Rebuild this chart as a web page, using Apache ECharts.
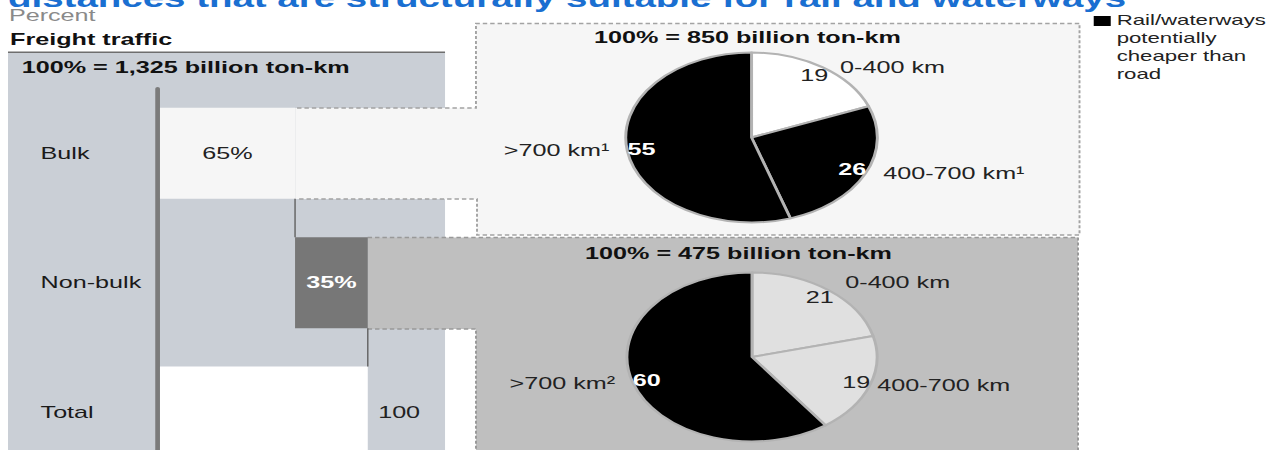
<!DOCTYPE html>
<html>
<head>
<meta charset="utf-8">
<script src="https://cdn.jsdelivr.net/npm/echarts@6/dist/echarts.min.js"></script>
<style>
  html, body { margin: 0; padding: 0; background: #fff; overflow: hidden; }
  /* the source picture is stretched sideways, so the whole chart is too */
  #main { width: 861px; height: 450px; transform: scaleX(1.48); transform-origin: 0 0; }
</style>
</head>
<body>
<div id="main"></div>
<script>
// rows of the freight waterfall (percent of 1,325 billion ton-km)
var rowNames = ['Bulk', 'Non-bulk', 'Total'];
var rowShares = [65, 35, 100];

// distance split of bulk freight (100% = 850 billion ton-km)
var bulkBands = ['0-400 km', '400-700 km¹', '>700 km¹'];
var bulkShares = [19, 26, 55];

// distance split of non-bulk freight (100% = 475 billion ton-km)
var nonBulkBands = ['0-400 km', '400-700 km', '>700 km²'];
var nonBulkShares = [21, 19, 60];

var totals = ['1,325', '850', '475'];

var FONT = '"Liberation Sans", Arial, sans-serif';
var chart = echarts.init(document.getElementById('main'), null, { renderer: 'svg' });

// invisible base of the waterfall
var base = [];
var run = 0;
rowShares.forEach(function (v, i) {
  if (i === rowShares.length - 1) {
    base.push(0);
  } else {
    base.push(run);
    run += v;
  }
});

var barColors = ['#f6f6f6', '#777777', '#ffffff'];
var barLabels = [
  { position: 'inside', formatter: '{c}%', color: '#222' },
  { position: 'inside', formatter: '{c}%', color: '#fff', fontWeight: 'bold' },
  { position: 'right', distance: 7, formatter: '{c}', color: '#222' }
];

var bulkColors = ['#ffffff', '#000000', '#000000'];
var bulkValueColors = ['#222', '#fff', '#fff'];
var nonBulkColors = ['#e0e0e0', '#e0e0e0', '#000000'];
var nonBulkValueColors = ['#222', '#222', '#fff'];
var nonBulkLines = [{ length: 10, length2: 0.1 }, { length: 0.1, length2: 0.1 }, { length: 0.1, length2: 7 }];

function pieSeries(center, r, names, values, colors, lines) {
  return {
    type: 'pie',
    center: center,
    radius: [0, r],
    startAngle: 90,
    silent: true,
    avoidLabelOverlap: false,
    itemStyle: { borderColor: '#b3b3b3', borderWidth: 2 },
    label: { position: 'outside', formatter: '{b}', fontSize: 17, color: '#222', fontFamily: FONT },
    labelLine: { show: false, length: 0.1, length2: 7 },
    data: names.map(function (n, i) {
      var d = { name: n, value: values[i], itemStyle: { color: colors[i] } };
      if (lines) d.labelLine = { show: false, length: lines[i].length, length2: lines[i].length2 };
      return d;
    })
  };
}

// transparent ring that only carries the value labels
function valueRing(center, r, names, values, textColors) {
  return {
    type: 'pie',
    center: center,
    radius: [r * 0.7, r],
    startAngle: 90,
    silent: true,
    avoidLabelOverlap: false,
    itemStyle: { color: 'rgba(0,0,0,0)', borderWidth: 0 },
    label: { position: 'inside', formatter: '{c}', fontSize: 17, fontFamily: FONT },
    labelLine: { show: false },
    data: names.map(function (n, i) {
      return {
        name: n,
        value: values[i],
        label: { color: textColors[i], fontWeight: textColors[i] === '#fff' ? 'bold' : 'normal' }
      };
    })
  };
}

var option = {
  animation: false,
  grid: { left: 108.1, top: 88.7, width: 140.4, height: 388, outerBoundsMode: 'none', containLabel: false },
  xAxis: { type: 'value', min: 0, max: 100, show: false },
  yAxis: {
    type: 'category',
    data: rowNames,
    inverse: true,
    offset: 1.7,
    axisLine: { onZero: false, lineStyle: { color: '#7b7b7b', width: 3.2 } },
    axisTick: { show: false },
    splitLine: { show: false },
    axisLabel: { align: 'left', margin: 79, fontSize: 17, color: '#1a1a1a', fontFamily: FONT }
  },
  series: [
    {
      type: 'bar', stack: 'w', barWidth: 91, silent: true,
      itemStyle: { color: 'rgba(0,0,0,0)' },
      data: base
    },
    {
      type: 'bar', stack: 'w', barWidth: 91, silent: true,
      label: { show: true, fontSize: 17, fontFamily: FONT },
      data: rowShares.map(function (v, i) {
        return { value: v, itemStyle: { color: barColors[i] }, label: barLabels[i] };
      })
    },
    pieSeries([507.8, 137.5], 85, bulkBands, bulkShares, bulkColors),
    valueRing([507.8, 137.5], 85, bulkBands, bulkShares, bulkValueColors),
    pieSeries([508.1, 357], 84.5, nonBulkBands, nonBulkShares, nonBulkColors, nonBulkLines),
    valueRing([508.1, 357], 84.5, nonBulkBands, nonBulkShares, nonBulkValueColors)
  ]
};

chart.setOption(option);

// waterfall connectors, placed through the axes
var half = 91 / 2;
var end1 = base[1];
var end2 = base[1] + rowShares[1];
var a1 = chart.convertToPixel({ gridIndex: 0 }, [end1, rowNames[0]]);
var a2 = chart.convertToPixel({ gridIndex: 0 }, [end1, rowNames[1]]);
var b1 = chart.convertToPixel({ gridIndex: 0 }, [end2, rowNames[1]]);
var b2 = chart.convertToPixel({ gridIndex: 0 }, [end2, rowNames[2]]);

function txt(x, y, s, st) {
  return {
    type: 'text', x: x, y: y, z: 20,
    style: Object.assign({
      text: s, fontSize: 17, fontFamily: FONT, fill: '#111',
      align: 'left', verticalAlign: 'middle'
    }, st || {})
  };
}

var dash = { fill: null, stroke: '#a3a3a3', lineWidth: 1.3, lineDash: [3, 2] };

chart.setOption({
  graphic: [
    // left grey panel
    { type: 'rect', z: -5, shape: { x: 5.4, y: 53, width: 295.3, height: 400 }, style: { fill: '#cacfd6' } },
    { type: 'line', z: -4, shape: { x1: 5.4, y1: 52.3, x2: 300.7, y2: 52.3 }, style: { stroke: '#6e6e6e', lineWidth: 1.5 } },
    // bulk box
    { type: 'polygon', z: -4, shape: { points: [[199.5, 108], [321.6, 108], [321.6, 23.5], [729.4, 23.5], [729.4, 235], [322.3, 235], [322.3, 199], [199.5, 199]] }, style: { fill: '#f6f6f6' } },
    { type: 'polyline', z: -3, shape: { points: [[200.7, 108], [321.6, 108], [321.6, 23.5], [729.4, 23.5], [729.4, 235], [322.3, 235], [322.3, 199], [200.7, 199]] }, style: dash },
    // non-bulk box
    { type: 'polygon', z: -4, shape: { points: [[248.4, 237.5], [728.4, 237.5], [728.4, 460], [321.6, 460], [321.6, 329], [248.4, 329]] }, style: { fill: '#bfbfbf' } },
    { type: 'polyline', z: -3, shape: { points: [[248.4, 329], [321.6, 329], [321.6, 460]] }, style: Object.assign({}, dash, { stroke: '#999' }) },
    { type: 'polyline', z: -3, shape: { points: [[248.4, 237.5], [728.4, 237.5], [728.4, 460]] }, style: Object.assign({}, dash, { stroke: '#999' }) },
    // connectors
    { type: 'line', z: 15, shape: { x1: a1[0], y1: a1[1] + half, x2: a2[0], y2: a2[1] - half }, style: { stroke: '#666', lineWidth: 1 } },
    { type: 'line', z: 15, shape: { x1: b1[0], y1: b1[1] + half, x2: b2[0], y2: b2[1] - half }, style: { stroke: '#666', lineWidth: 1 } },
    // texts
    txt(5.4, -2, 'distances that are structurally suitable for rail and waterways', { fontSize: 26, fontWeight: 'bold', fill: '#1a6fd1' }),
    txt(6, 15.5, 'Percent', { fill: '#8a8a8a' }),
    txt(6.8, 39.5, 'Freight traffic', { fontWeight: 'bold' }),
    txt(14.7, 67.8, '100% = ' + totals[0] + ' billion ton-km', { fontWeight: 'bold' }),
    txt(505, 37, '100% = ' + totals[1] + ' billion ton-km', { fontWeight: 'bold', align: 'center' }),
    txt(499, 253, '100% = ' + totals[2] + ' billion ton-km', { fontWeight: 'bold', align: 'center' }),
    // legend
    { type: 'rect', z: 20, shape: { x: 739, y: 16, width: 11.5, height: 10 }, style: { fill: '#000' } },
    txt(754.5, 11, 'Rail/waterways\npotentially\ncheaper than\nroad', { fontSize: 15, verticalAlign: 'top', lineHeight: 18, fill: '#222' })
  ]
});
</script>
</body>
</html>
